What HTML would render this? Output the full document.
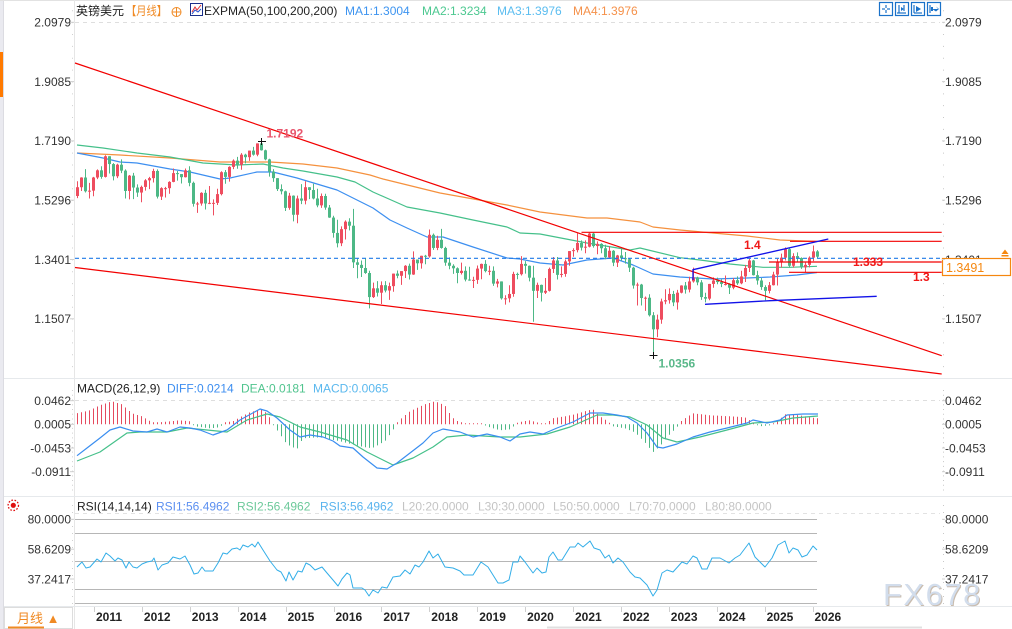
<!DOCTYPE html>
<html><head><meta charset="utf-8">
<style>
html,body{margin:0;padding:0;background:#fff;width:1012px;height:629px;overflow:hidden}
svg{display:block;font-family:"Liberation Sans","Noto Sans CJK SC",sans-serif}
.ax{font-size:12px;fill:#333}
.lg{font-size:12px}
.yr{font-size:12px;font-weight:bold;fill:#222}
</style></head><body>
<svg id="c" width="1012" height="629" viewBox="0 0 1012 629" xmlns="http://www.w3.org/2000/svg">
<rect x="0" y="0" width="1012" height="629" fill="#fff"/>
<!-- left strip -->
<rect x="0" y="0" width="3" height="629" fill="#eaeaf0"/>
<line x1="3.5" y1="0" x2="3.5" y2="629" stroke="#dcdce2"/>
<rect x="0" y="52" width="3" height="45" fill="#ff7a00"/>
<!-- frame lines -->
<line x1="0" y1="0.5" x2="1012" y2="0.5" stroke="#e2e2e2"/>
<line x1="74.5" y1="0" x2="74.5" y2="629" stroke="#e6e6e6"/>
<line x1="4" y1="378.5" x2="1012" y2="378.5" stroke="#e6e9ec"/>
<line x1="4" y1="496.5" x2="1012" y2="496.5" stroke="#e6e9ec"/>
<line x1="4" y1="606.5" x2="1012" y2="606.5" stroke="#e6e9ec"/>
<line x1="547" y1="627.5" x2="922" y2="627.5" stroke="#e0e0e0" stroke-width="2"/>
<!-- watermark (behind labels) -->
<text x="884" y="606" font-size="31" fill="#c9bcae" letter-spacing="1.5">FX678</text>
<text x="883" y="605" font-size="31" fill="#d2ddec" letter-spacing="1.5">FX678</text>
<!-- right axis dotted -->
<line x1="943.5" y1="10" x2="943.5" y2="378" stroke="#c8c8c8" stroke-dasharray="1 10.86" stroke-dashoffset="-0.3"/>
<line x1="943.5" y1="390" x2="943.5" y2="494" stroke="#c8c8c8" stroke-dasharray="1 3.74"/>
<line x1="943.5" y1="505" x2="943.5" y2="604" stroke="#c8c8c8" stroke-dasharray="1 6"/>
<line x1="72.5" y1="10" x2="72.5" y2="378" stroke="#d0d0d0" stroke-dasharray="1 10.86" stroke-dashoffset="-0.3"/>
<line x1="72.5" y1="390" x2="72.5" y2="494" stroke="#d0d0d0" stroke-dasharray="1 3.74"/>
<line x1="72.5" y1="505" x2="72.5" y2="604" stroke="#d0d0d0" stroke-dasharray="1 6"/>
<!-- dashed top lines -->
<line x1="75" y1="22.5" x2="940" y2="22.5" stroke="#dedede" stroke-dasharray="4 4"/>
<line x1="75" y1="400.5" x2="940" y2="400.5" stroke="#dedede" stroke-dasharray="4 4"/>
<line x1="75" y1="513.5" x2="940" y2="513.5" stroke="#e2e2e2" stroke-dasharray="4 4"/>
<!-- RSI gray levels -->
<g stroke="#b6b6b6" stroke-width="1">
<line x1="75" y1="519.5" x2="817" y2="519.5"/>
<line x1="75" y1="533.5" x2="817" y2="533.5"/>
<line x1="75" y1="561.5" x2="817" y2="561.5"/>
<line x1="75" y1="589.5" x2="817" y2="589.5"/>
<line x1="75" y1="603.5" x2="817" y2="603.5"/>
</g>

<g id="ma"></g>
<g id="candles"></g>
<g id="macd"></g>
<g id="rsi"></g>

<!-- current price dashed -->
<line x1="75" y1="258.3" x2="941" y2="258.3" stroke="#1f7ae8" stroke-width="1.2" stroke-dasharray="4 3"/>

<!-- trend lines -->
<g stroke="#f20000" stroke-width="1.2" fill="none">
<line x1="75" y1="63" x2="941.7" y2="355.7"/>
<line x1="75" y1="267.5" x2="941.7" y2="374"/>
<line x1="581.5" y1="232.3" x2="941.7" y2="232.3"/>
<line x1="790" y1="241.3" x2="941.7" y2="241.3"/>
<line x1="769" y1="262" x2="941.7" y2="262"/>
<line x1="789" y1="272.3" x2="941.7" y2="272.3"/>
</g>
<g stroke="#1212e8" stroke-width="1.3" fill="none">
<polyline points="693,280 693,269.7 828.3,239"/>
<polyline points="705,304.3 770,300.7 876.7,296.3"/>
</g>

<!-- annotations -->
<text x="744" y="249" font-size="12" font-weight="bold" fill="#f01818">1.4</text>
<text x="853" y="266" font-size="12" font-weight="bold" fill="#f01818">1.333</text>
<text x="913" y="281" font-size="12" font-weight="bold" fill="#f01818">1.3</text>
<text x="266.5" y="137.5" font-size="12" font-weight="bold" fill="#e8566e">1.7192</text>
<text x="658.5" y="367.5" font-size="12" font-weight="bold" fill="#5ab88a">1.0356</text>
<g stroke="#111" stroke-width="1">
<line x1="258" y1="141.5" x2="266" y2="141.5"/><line x1="261.5" y1="138" x2="261.5" y2="145"/>
<line x1="649.5" y1="355.5" x2="657.5" y2="355.5"/><line x1="653.5" y1="352" x2="653.5" y2="359"/>
</g>

<!-- top legend -->
<text class="lg" x="76" y="15" fill="#222">英镑美元</text>
<text class="lg" x="126" y="15" fill="#f08a24" textLength="41" lengthAdjust="spacingAndGlyphs">【月线】</text>
<g stroke="#f08a24" fill="none" stroke-width="1">
<circle cx="176.5" cy="12" r="4.5"/><line x1="172" y1="12" x2="181" y2="12"/><line x1="176.5" y1="7.5" x2="176.5" y2="16.5"/>
</g>
<rect x="190.5" y="3.5" width="12" height="12" fill="#fff" stroke="#1a2f8a"/>
<polyline points="192,12 195,7 197,10 201,5" fill="none" stroke="#e03030" stroke-width="1"/>
<polyline points="192,14 195,10 198,12 201,9" fill="none" stroke="#2050d0" stroke-width="1"/>
<text class="lg" x="204" y="15" fill="#222">EXPMA(50,100,200,200)</text>
<text class="lg" x="345" y="15" fill="#3d94f0">MA1:1.3004</text>
<text class="lg" x="422" y="15" fill="#4cc890">MA2:1.3234</text>
<text class="lg" x="497" y="15" fill="#5bbdf0">MA3:1.3976</text>
<text class="lg" x="573" y="15" fill="#f5914a">MA4:1.3976</text>

<!-- top-right icons -->
<g fill="none" stroke="#1a72c9" stroke-width="1.2">
<rect x="879.5" y="2.5" width="13" height="13"/>
<rect x="895.5" y="2.5" width="13" height="13"/>
<rect x="911.5" y="2.5" width="13" height="13"/>
<rect x="927.5" y="2.5" width="13" height="13"/>
<line x1="886" y1="5" x2="886" y2="8"/><line x1="886" y1="10" x2="886" y2="13"/><line x1="882" y1="9" x2="885" y2="9"/><line x1="887" y1="9" x2="890" y2="9"/>
<line x1="899" y1="5" x2="899" y2="13"/><line x1="897" y1="13" x2="906" y2="13"/><line x1="904" y1="5" x2="904" y2="11"/>
<line x1="914" y1="5" x2="914" y2="13"/><line x1="914" y1="13" x2="922" y2="13"/>
<line x1="930" y1="5" x2="930" y2="13"/>
</g>
<polygon points="901,7 904,9 901,11" fill="#1a72c9"/>
<polygon points="916,6 921,9 916,12" fill="#1a72c9"/>
<polygon points="933,7 933,11 931,11 931,7" fill="#1a72c9"/>
<polygon points="932,9 938,9 936,6.5 939,9 936,11.5" fill="#1a72c9"/>

<!-- left axis labels -->
<g class="ax" text-anchor="end">
<text x="71" y="26.6">2.0979</text>
<text x="71" y="85.9">1.9085</text>
<text x="71" y="145.2">1.7190</text>
<text x="71" y="204.5">1.5296</text>
<text x="71" y="263.8">1.3401</text>
<text x="71" y="323.1">1.1507</text>
<text x="71" y="405">0.0462</text>
<text x="71" y="428.6">0.0005</text>
<text x="71" y="452.3">-0.0453</text>
<text x="71" y="476">-0.0911</text>
<text x="71" y="523.6">80.0000</text>
<text x="71" y="553.5">58.6209</text>
<text x="71" y="583.3">37.2417</text>
</g>
<!-- right axis labels -->
<g class="ax">
<text x="945" y="26.6">2.0979</text>
<text x="945" y="85.9">1.9085</text>
<text x="945" y="145.2">1.7190</text>
<text x="945" y="204.5">1.5296</text>
<text x="945" y="263.8">1.3401</text>
<text x="945" y="323.1">1.1507</text>
<text x="945" y="405">0.0462</text>
<text x="945" y="428.6">0.0005</text>
<text x="945" y="452.3">-0.0453</text>
<text x="945" y="476">-0.0911</text>
<text x="945" y="523.6">80.0000</text>
<text x="945" y="553.5">58.6209</text>
<text x="945" y="583.3">37.2417</text>
</g>
<!-- price box -->
<rect x="942.5" y="258.5" width="68" height="17" fill="#fff" stroke="#f5870f" stroke-width="1.2"/>
<text x="946" y="271.8" font-size="12.5" fill="#f5870f">1.3491</text>
<polygon points="1001.5,254 1005,249.5 1008.5,254" fill="#f5870f"/>
<rect x="1001.5" y="255" width="7" height="1.5" fill="#f5870f"/>

<!-- MACD legend -->
<text class="lg" x="77" y="392.5" fill="#222">MACD(26,12,9)</text>
<text class="lg" x="167" y="392.5" fill="#3d8ef0">DIFF:0.0214</text>
<text class="lg" x="241" y="392.5" fill="#50c48e">DEA:0.0181</text>
<text class="lg" x="313" y="392.5" fill="#5ab8ee">MACD:0.0065</text>

<!-- RSI legend -->
<circle cx="13.3" cy="505.3" r="2.6" fill="#e01010"/>
<circle cx="13.3" cy="505.3" r="5.2" fill="none" stroke="#e01010" stroke-width="1.3" stroke-dasharray="1.6 1.6"/>
<text class="lg" x="77" y="510.5" fill="#222">RSI(14,14,14)</text>
<text class="lg" x="156" y="510.5" fill="#5b8ff0">RSI1:56.4962</text>
<text class="lg" x="237" y="510.5" fill="#6cc99a">RSI2:56.4962</text>
<text class="lg" x="320" y="510.5" fill="#5ab4ee">RSI3:56.4962</text>
<text class="lg" x="402" y="510.5" fill="#c4c4c4">L20:20.0000</text>
<text class="lg" x="478" y="510.5" fill="#c4c4c4">L30:30.0000</text>
<text class="lg" x="553" y="510.5" fill="#c4c4c4">L50:50.0000</text>
<text class="lg" x="629" y="510.5" fill="#c4c4c4">L70:70.0000</text>
<text class="lg" x="705" y="510.5" fill="#c4c4c4">L80:80.0000</text>

<!-- time axis -->
<g id="ticks" stroke="#cfcfcf"></g>
<g>
<text class="yr" x="96" y="621">2011</text>
<text class="yr" x="143.9" y="621">2012</text>
<text class="yr" x="191.8" y="621">2013</text>
<text class="yr" x="239.7" y="621">2014</text>
<text class="yr" x="287.6" y="621">2015</text>
<text class="yr" x="335.5" y="621">2016</text>
<text class="yr" x="383.4" y="621">2017</text>
<text class="yr" x="431.3" y="621">2018</text>
<text class="yr" x="479.2" y="621">2019</text>
<text class="yr" x="527.1" y="621">2020</text>
<text class="yr" x="575" y="621">2021</text>
<text class="yr" x="622.9" y="621">2022</text>
<text class="yr" x="670.8" y="621">2023</text>
<text class="yr" x="718.7" y="621">2024</text>
<text class="yr" x="766.6" y="621">2025</text>
<text class="yr" x="814.5" y="621">2026</text>
</g>

<!-- bottom-left -->
<rect x="4.5" y="607.5" width="68" height="21" fill="#fff" stroke="#dddddd"/>
<text x="17" y="623" font-size="13" fill="#f08a24">月线 ▲</text>
<rect x="8" y="626.5" width="36" height="2" fill="#f08a24"/>
</svg>
<script>
(function(){
var NS="http://www.w3.org/2000/svg";
function el(p,t,a){var e=document.createElementNS(NS,t);for(var k in a)e.setAttribute(k,a[k]);p.appendChild(e);return e;}
function pts(a){var s=[];for(var i=0;i<a.length;i+=2)s.push(a[i]+","+a[i+1]);return s.join(" ");}
function pl(p,a,c,w){el(p,"polyline",{points:pts(a),fill:"none",stroke:c,"stroke-width":w,"stroke-linejoin":"round"});}
function Y(p){return 22.3+(2.0979-p)*313;}

var ma=document.getElementById("ma");
pl(ma,[77,153,120,155,170,158,220,162,270,162,303,164,337,168,370,175,383,179,440,193,507,205,540,212,587,218,607,218,640,222,653,227,680,230,713,233,747,236,780,240,817,241.5],"#f5913e",1.2);
pl(ma,[77,145,103,148,137,153,170,157,203,163,237,165,263,164,283,168,303,171,337,177,355,182,373,192,407,207,440,213,473,220,507,227,520,233,540,234,587,243,630,250,640,248,680,257.7,700,260,730,264,763,267.3,790,267.3,817,266.3],"#45c08a",1.2);
pl(ma,[77,153,103,158,120,162,137,163,170,169,190,172,220,179,230,178,257,172,273,172,297,178,337,190,357,200,373,208,390,220,407,228,427,237,443,237,473,247,507,258,520,259,540,263,563,265,587,260,613,258,633,265,653,274,680,277,713,279,747,278,770,277,797,275,817,272.5],"#3d8ff0",1.2);

var H=[
1.590,1.536,1.571, 1.603,1.559,1.602, 1.629,1.554,1.558, 1.585,1.535,1.560,
1.604,1.542,1.602, 1.628,1.597,1.625, 1.638,1.598,1.604, 1.673,1.602,1.670, 1.670,1.615,1.645, 1.648,1.593,1.606, 1.646,1.600,1.643, 1.660,1.616,1.624, 1.628,1.535,1.559, 1.610,1.532,1.608, 1.617,1.533,1.570, 1.580,1.540,1.554,
1.576,1.523,1.572, 1.597,1.560,1.593, 1.604,1.565,1.600, 1.630,1.586,1.623, 1.628,1.535,1.541, 1.571,1.530,1.568, 1.572,1.538,1.568, 1.590,1.550,1.588, 1.631,1.587,1.616, 1.623,1.592,1.613, 1.613,1.583,1.603, 1.631,1.602,1.625,
1.638,1.574,1.585, 1.589,1.509,1.518, 1.524,1.489,1.519, 1.555,1.512,1.553, 1.563,1.500,1.519, 1.575,1.517,1.521, 1.532,1.481,1.521, 1.566,1.514,1.549, 1.622,1.545,1.619, 1.626,1.582,1.604, 1.638,1.589,1.636, 1.660,1.629,1.656,
1.668,1.630,1.643, 1.680,1.627,1.675, 1.678,1.647,1.667, 1.688,1.655,1.688, 1.700,1.672,1.675, 1.711,1.670,1.711, 1.7192,1.688,1.689, 1.691,1.657,1.660, 1.662,1.605,1.621, 1.629,1.588,1.600, 1.600,1.559,1.565, 1.580,1.548,1.558,
1.560,1.495,1.505, 1.553,1.499,1.544, 1.545,1.462,1.483, 1.544,1.456,1.535, 1.581,1.517,1.528, 1.590,1.516,1.571, 1.568,1.533,1.562, 1.582,1.532,1.535, 1.566,1.507,1.513, 1.551,1.505,1.543, 1.550,1.499,1.506, 1.514,1.473,1.474,
1.480,1.410,1.425, 1.467,1.379,1.392, 1.446,1.383,1.437, 1.465,1.404,1.461, 1.472,1.433,1.448, 1.502,1.313,1.331, 1.344,1.280,1.323, 1.337,1.284,1.313, 1.344,1.294,1.297, 1.304,1.184,1.220, 1.266,1.217,1.248, 1.271,1.222,1.234,
1.270,1.198,1.258, 1.271,1.235,1.241, 1.266,1.211,1.255, 1.291,1.237,1.295, 1.305,1.280,1.288, 1.302,1.259,1.303, 1.322,1.281,1.320, 1.327,1.276,1.292, 1.366,1.291,1.340, 1.338,1.307,1.328, 1.352,1.311,1.352, 1.355,1.325,1.350,
1.436,1.346,1.419, 1.423,1.371,1.377, 1.416,1.370,1.403, 1.438,1.375,1.377, 1.381,1.320,1.330, 1.347,1.309,1.320, 1.325,1.294,1.312, 1.315,1.264,1.297, 1.330,1.292,1.304, 1.318,1.270,1.276, 1.317,1.272,1.275, 1.285,1.249,1.275,
1.321,1.262,1.311, 1.327,1.277,1.326, 1.338,1.299,1.303, 1.320,1.290,1.304, 1.318,1.256,1.263, 1.278,1.251,1.270, 1.270,1.212,1.216, 1.226,1.196,1.216, 1.258,1.203,1.230, 1.301,1.221,1.294, 1.298,1.277,1.293, 1.351,1.289,1.326,
1.335,1.295,1.320, 1.321,1.270,1.282, 1.320,1.141,1.240, 1.266,1.217,1.259, 1.260,1.206,1.234, 1.281,1.230,1.240, 1.314,1.238,1.310, 1.348,1.297,1.337, 1.348,1.276,1.291, 1.318,1.283,1.294, 1.340,1.285,1.334, 1.367,1.320,1.367,
1.376,1.349,1.370, 1.424,1.363,1.393, 1.401,1.369,1.378, 1.401,1.360,1.381, 1.425,1.379,1.423, 1.425,1.378,1.383, 1.398,1.357,1.390, 1.392,1.360,1.376, 1.387,1.341,1.347, 1.383,1.345,1.368, 1.370,1.319,1.330, 1.355,1.316,1.353,
1.375,1.336,1.344, 1.364,1.327,1.341, 1.343,1.300,1.314, 1.317,1.247,1.257, 1.266,1.193,1.260, 1.262,1.193,1.217, 1.222,1.176,1.218, 1.229,1.158,1.162, 1.172,1.0356,1.117, 1.164,1.092,1.148, 1.215,1.135,1.206, 1.245,1.197,1.210,
1.248,1.199,1.230, 1.240,1.191,1.203, 1.243,1.180,1.234, 1.258,1.232,1.257, 1.268,1.231,1.244, 1.285,1.235,1.270, 1.314,1.266,1.283, 1.285,1.258,1.267, 1.274,1.211,1.220, 1.234,1.203,1.215, 1.262,1.210,1.262, 1.283,1.250,1.273,
1.282,1.261,1.268, 1.277,1.252,1.262, 1.289,1.257,1.262, 1.264,1.230,1.250, 1.281,1.245,1.274, 1.286,1.259,1.264, 1.304,1.261,1.286, 1.323,1.268,1.313, 1.343,1.300,1.337, 1.339,1.289,1.290, 1.304,1.260,1.273, 1.281,1.243,1.252,
1.258,1.210,1.240, 1.268,1.232,1.258, 1.301,1.257,1.292, 1.342,1.257,1.331, 1.359,1.314,1.346, 1.379,1.337,1.373, 1.378,1.314,1.320, 1.360,1.314,1.351, 1.363,1.333,1.345, 1.347,1.310,1.315, 1.330,1.300,1.323, 1.350,1.315,1.346,
1.385,1.335,1.366, 1.370,1.345,1.349
];
var cg=document.getElementById("candles");
var O=1.543;
for(var i=0;i<H.length/3;i++){
  var h=H[3*i],l=H[3*i+1],c=H[3*i+2];
  h=Math.max(h,O,c);l=Math.min(l,O,c);
  var up=c>=O, col=up?"#ee4d5f":"#4db886";
  var x=77.5+4*i;
  el(cg,"line",{x1:x,y1:Y(h),x2:x,y2:Y(l),stroke:col,"stroke-width":1});
  var t=Y(Math.max(O,c)),b=Y(Math.min(O,c));
  el(cg,"rect",{x:x-1.5,y:t,width:3,height:Math.max(1,b-t),fill:col});
  O=c;
}

// MACD
var mg=document.getElementById("macd");
var kp=[77,11,90,14,100,19,112,23,122,20,132,11,142,8,152,2,160,2,170,3,180,4,190,3,195,-2,210,-4,220,-3,225,2,233,3,240,7,250,12,262,15,268,10,272,2,276,-4,287,-20,297,-25,303,-14,320,-13,340,-17,360,-22,372,-24,385,-17,393,-6,398,3,410,13,425,20,435,23,445,19,452,7,458,3,465,1,480,1,490,-3,500,-6,510,-5,515,-1,518,2,530,4,540,1,547,0.5,552,6,565,8,575,10,585,13,593,15,600,8,608,3,613,-2,625,-4,635,-8,645,-18,653,-28,660,-22,668,-12,677,-3,682,4,693,11,710,9,730,8,745,7,753,2,760,-2,770,-1,778,3,785,10,800,9,810,7,818,6];
function interp(x){
  if(x<=kp[0])return kp[1];
  for(var j=0;j<kp.length-2;j+=2){
    if(x>=kp[j]&&x<=kp[j+2]){var f=(x-kp[j])/(kp[j+2]-kp[j]);return kp[j+1]+f*(kp[j+3]-kp[j+1]);}
  }
  return kp[kp.length-1];
}
var z=424.3;
for(var i=0;i<186;i++){
  var x=77.5+4*i, v=interp(x);
  if(Math.abs(v)<1)v=v<0?-1:1;
  el(mg,"line",{x1:x,y1:z,x2:x,y2:z-v,stroke:v>0?"#e54a5e":"#4cb885","stroke-width":1});
}
pl(mg,[77,461,100,452,127,433,140,432,167,432,187,428,207,430,227,432,247,420,267,414,280,417,300,427,320,432,347,440,367,452,393,465,413,458,433,447,447,437,467,435,500,437,520,437,547,434,570,427,597,415,613,415,630,417,647,425,663,438,677,442,700,437,727,430,753,423,773,422,793,418,818,416],"#45c08a",1.2);
pl(mg,[77,455.7,87,448,100,438,110,430,120,427,133,431,147,432,157,429,167,432,180,427,190,428,200,430,213,435,227,430,240,420,260,409,267,411,277,418,290,430,300,437,310,435,323,437,333,441,340,446,353,448,363,457,377,468,387,469,397,463,410,453,423,443,433,433,443,429,460,432,473,437,487,434,500,437,510,441,520,434,530,432,543,434,557,428,573,422,590,413,603,413,617,415,627,417,637,423,647,433,657,447,663,448,677,444,693,437,710,432,727,428,747,423,753,420,767,423,780,420,787,415,803,414,818,414],"#3a8ef0",1.2);

// RSI
var rg=document.getElementById("rsi");
pl(rg,[77,567,82,562,86,568,90,567,97,559,101,562,106,553,110,556,115,561,118,558,122,560,126,568,129,562,133,567,137,568,142,564,147,562,152,561,154,558,158,570,162,565,168,563,173,557,180,559,185,556,190,565,194,574,198,573,202,567,205,571,213,571,218,563,223,553,227,554,232,549,237,548,240,550,243,545,248,547,252,544,255,547,258,542,263,550,270,561,277,570,281,572,286,581,289,572,293,580,298,571,302,572,306,563,310,565,315,570,322,567,327,573,333,580,338,586,342,579,347,573,350,575,353,588,362,588,365,590,369,596,373,590,378,593,382,587,387,588,393,577,400,576,405,570,410,574,415,565,419,567,423,562,429,551,433,558,438,554,445,567,453,568,460,571,464,575,473,575,481,562,488,567,493,575,498,583,503,583,509,580,513,562,518,562,520,556,525,562,533,573,537,568,542,573,546,572,549,557,553,552,558,560,562,560,570,547,575,547,578,543,583,547,590,541,594,548,600,550,605,558,609,555,613,563,618,558,623,562,630,572,635,577,640,578,647,585,653,596,657,590,662,573,667,570,673,572,682,562,687,564,693,556,697,558,702,569,707,569,712,558,720,558,729,563,735,558,740,555,749,543,755,557,765,567,772,558,778,545,785,541,789,553,793,548,798,550,802,557,807,555,813,546,817,550],"#33aee8",1);

// ticks
var tg=document.getElementById("ticks");
for(var k=0;k<16;k++){var tx=Math.round(94+47.9*k)+0.5;el(tg,"line",{x1:tx,y1:607,x2:tx,y2:612});}
var ax=[22.3,81.6,140.9,200.2,259.5,318.8,400.7,424.3,448,471.7,519.3,549.2,579];
for(var k=0;k<ax.length;k++){el(tg,"line",{x1:70,y1:ax[k],x2:74,y2:ax[k]});el(tg,"line",{x1:942,y1:ax[k],x2:945,y2:ax[k]});}
})();
</script>
</body></html>
